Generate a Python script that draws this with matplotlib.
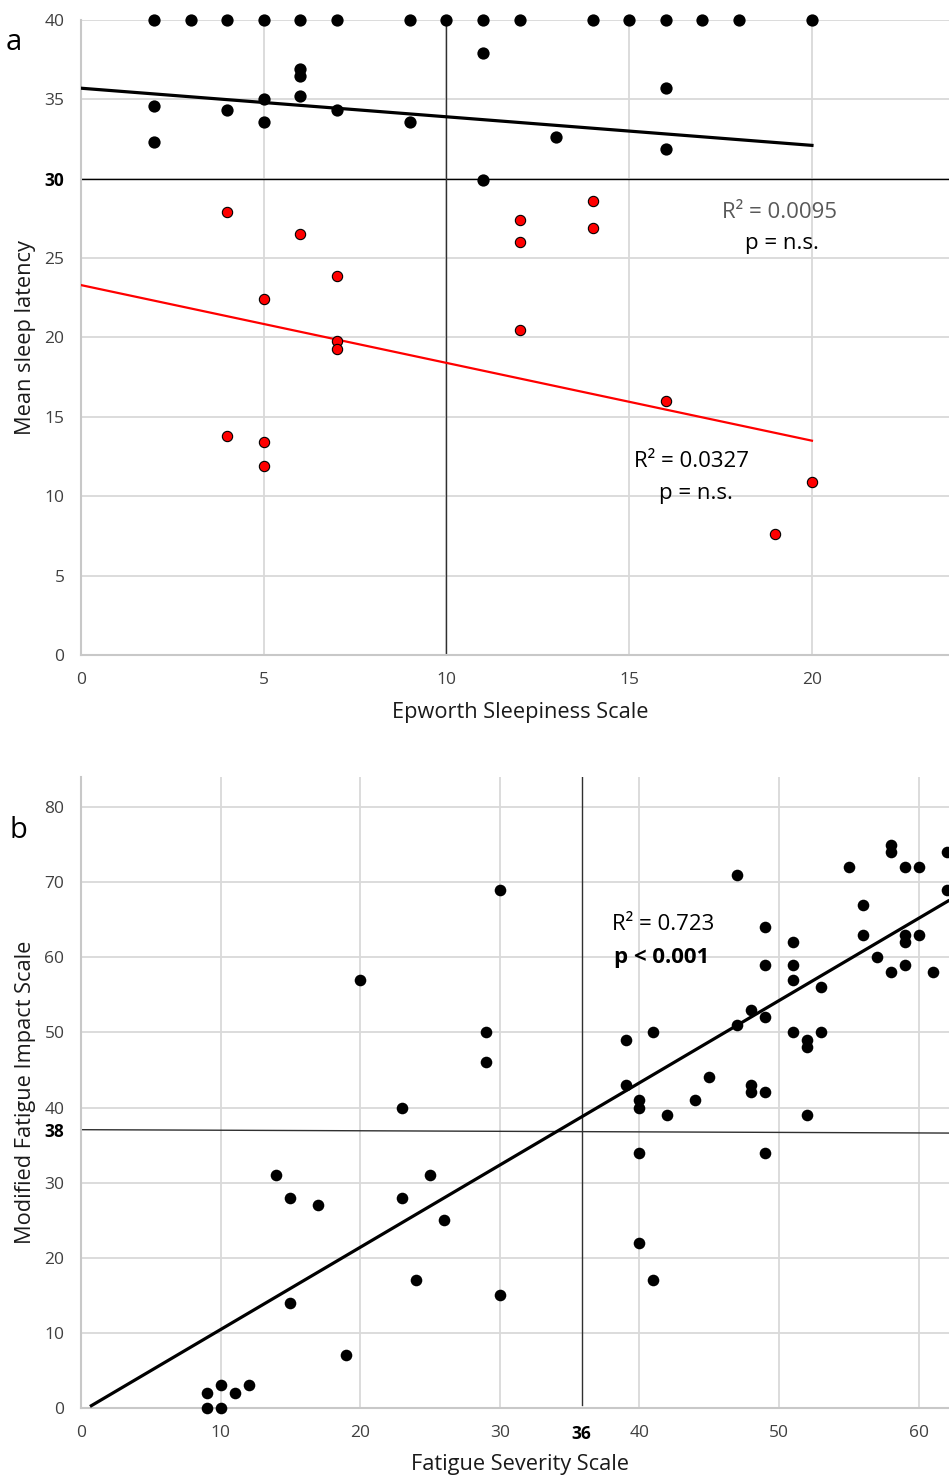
import matplotlib
matplotlib.use("Agg")
import matplotlib.pyplot as plt

plt.rcParams['font.family'] = ['Open Sans', 'DejaVu Sans']

# panel a: Epworth Sleepiness Scale vs mean sleep latency
ess_black_x = [2, 3, 4, 5, 6, 7, 9, 10, 11, 12, 14, 15, 16, 17, 18, 20,
               2, 2, 4, 5, 5, 6, 6, 6, 7, 9, 11, 13, 16, 16, 11]
msl_black_y = [40, 40, 40, 40, 40, 40, 40, 40, 40, 40, 40, 40, 40, 40, 40, 40,
               34.6, 32.3, 34.3, 35.0, 33.6, 36.9, 36.5, 35.2, 34.3, 33.6,
               37.9, 32.6, 35.7, 31.9, 29.9]
ess_red_x = [4, 6, 7, 5, 7, 7, 12, 12, 12, 14, 14, 16, 4, 5, 5, 20, 19]
msl_red_y = [27.9, 26.5, 23.9, 22.4, 19.8, 19.3, 27.4, 26.0, 20.5, 28.6,
             26.9, 16.0, 13.8, 13.4, 11.9, 10.9, 7.6]
# trend line end points
trend_black_x = [0, 20]
trend_black_y = [35.7, 32.1]
trend_red_x = [0, 20]
trend_red_y = [23.3, 13.5]

# panel b: Fatigue Severity Scale vs Modified Fatigue Impact Scale
fss = [9, 9, 10, 10, 11, 12, 14, 15, 15, 17, 19, 20, 23, 23, 24, 25, 26,
       29, 29, 30, 30,
       39, 39, 40, 40, 40, 40, 41, 41, 42, 44, 45, 47, 47, 48, 48, 48,
       49, 49, 49, 49, 49, 51, 51, 51, 51, 52, 52, 52, 53, 53,
       55, 56, 56, 57, 58, 58, 58, 59, 59, 59, 59, 60, 60, 61, 62, 62]
mfis = [2, 0, 3, 0, 2, 3, 31, 28, 14, 27, 7, 57, 40, 28, 17, 31, 25,
        50, 46, 69, 15,
        49, 43, 41, 40, 34, 22, 50, 17, 39, 41, 44, 71, 51, 53, 43, 42,
        64, 59, 52, 42, 34, 62, 59, 57, 50, 49, 48, 39, 56, 50,
        72, 67, 63, 60, 75, 74, 58, 72, 63, 62, 59, 72, 63, 58, 74, 69]
trend_b_x = [0.64, 62.2]
trend_b_y = [0.2, 67.6]

grid_col = '#d9d9d9'
tick_col = '#404040'
label_col = '#1a1a1a'
tick_size = 12.5
label_size = 15.7
note_size = 16


def style_axes(ax):
    for side in ['top', 'right']:
        ax.spines[side].set_visible(False)
    for side in ['left', 'bottom']:
        ax.spines[side].set_color('#c8c8c8')
        ax.spines[side].set_linewidth(1.5)
    ax.grid(True, which='major', color=grid_col, linewidth=1.3)
    ax.set_axisbelow(True)
    ax.tick_params(which='both', length=0, pad=12, labelsize=tick_size,
                   labelcolor=tick_col)


fig = plt.figure(figsize=(9.49, 14.77), dpi=100)

# ---- panel a
ax1 = fig.add_axes([0.0854, 0.5565, 0.9146, 0.4300])
style_axes(ax1)
ax1.set_xticks([0, 5, 10, 15, 20])
ax1.set_yticks(range(0, 41, 5), [str(v) for v in range(0, 41, 5)])
ax1.set_xlim(0, 23.75)
ax1.set_ylim(0, 40)
for lab in ax1.get_yticklabels():
    if lab.get_text() == '30':
        lab.set_fontweight('bold')
        lab.set_color('black')

ax1.axhline(30, color='black', linewidth=1.0, zorder=2)
ax1.plot([10, 10], [0, 40], color='#303030', linewidth=1.0, zorder=2)
ax1.plot(trend_black_x, trend_black_y, color='black', linewidth=2.3, zorder=3)
ax1.plot(trend_red_x, trend_red_y, color='#ff0000', linewidth=1.6, zorder=3)
ax1.scatter(ess_black_x, msl_black_y, s=78, color='black', zorder=4,
            clip_on=False, linewidths=0)
ax1.scatter(ess_red_x, msl_red_y, s=55, color='#ff0000', edgecolors='black',
            linewidths=0.8, zorder=4, clip_on=False)

ax1.text(19.1, 27.9, 'R² = 0.0095', fontsize=note_size, color='#595959',
         ha='center', va='center')
ax1.text(19.18, 25.95, 'p = n.s.', fontsize=note_size, color='black',
         ha='center', va='center')
ax1.text(16.7, 12.2, 'R² = 0.0327', fontsize=note_size, color='black',
         ha='center', va='center')
ax1.text(16.83, 10.2, 'p = n.s.', fontsize=note_size, color='black',
         ha='center', va='center')

ax1.set_xlabel('Epworth Sleepiness Scale', fontsize=label_size, color=label_col)
ax1.set_ylabel('Mean sleep latency', fontsize=label_size, color=label_col)
ax1.xaxis.set_label_coords(0.506, -0.09)
ax1.yaxis.set_label_coords(-0.0645, 0.5)
ax1.xaxis.label.set_va('center')
ax1.yaxis.label.set_va('center')

# ---- panel b
ax2 = fig.add_axes([0.0854, 0.04672, 0.9146, 0.42721])
style_axes(ax2)
ax2.set_xticks(range(0, 61, 10))
ax2.set_yticks(range(0, 81, 10))
ax2.set_xticks([35.85], ['36'], minor=True)
ax2.set_yticks([37.0], ['38'], minor=True)
ax2.set_xlim(0, 62.17)
ax2.set_ylim(0, 84)
for lab in ax2.get_xticklabels(minor=True) + ax2.get_yticklabels(minor=True):
    lab.set_fontweight('bold')
    lab.set_color('black')

ax2.plot([0, 62.17], [37.05, 36.6], color='#303030', linewidth=1.0, zorder=2)
ax2.plot([35.85, 35.85], [0.4, 84], color='#303030', linewidth=1.0, zorder=2)
ax2.plot(trend_b_x, trend_b_y, color='black', linewidth=2.3, zorder=3,
         solid_capstyle='butt')
ax2.scatter(fss, mfis, s=70, color='black', zorder=4, clip_on=False,
            linewidths=0)

ax2.text(41.67, 64.3, 'R² = 0.723', fontsize=note_size, color='black',
         ha='center', va='center')
ax2.text(41.6, 60.0, 'p < 0.001', fontsize=note_size, color='black',
         fontweight='bold', ha='center', va='center')

ax2.set_xlabel('Fatigue Severity Scale', fontsize=label_size, color=label_col)
ax2.set_ylabel('Modified Fatigue Impact Scale', fontsize=label_size,
               color=label_col)
ax2.xaxis.set_label_coords(0.506, -0.09)
ax2.yaxis.set_label_coords(-0.0645, 0.5)
ax2.xaxis.label.set_va('center')
ax2.yaxis.label.set_va('center')

fig.text(14 / 949, 1 - 42 / 1477, 'a', fontsize=21, ha='center', va='center')
fig.text(18 / 949, 1 - 830 / 1477, 'b', fontsize=21, ha='center', va='center')

fig.savefig('out.png', dpi=100)
